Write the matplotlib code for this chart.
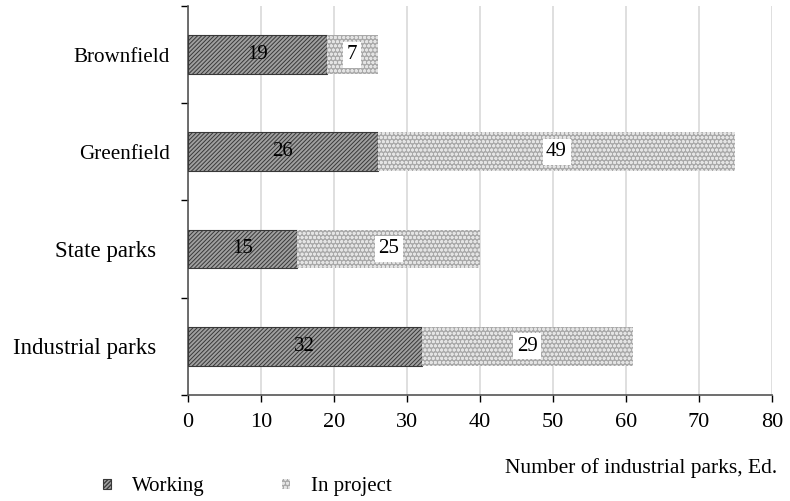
import matplotlib.pyplot as plt
import matplotlib.transforms as mtransforms
import numpy as np

categories = ["Industrial parks", "State parks", "Greenfield", "Brownfield"]
working = [32, 15, 26, 19]
in_project = [29, 25, 49, 7]

plt.rcParams['font.family'] = ['Liberation Serif', 'DejaVu Serif']

fig = plt.figure(figsize=(7.9, 5.01), dpi=100)
ax = fig.add_axes([0.238, 0.212, 0.739, 0.776])

y = np.arange(len(categories))
left = np.array(working)

plt.rcParams['hatch.linewidth'] = 0.7
b1 = ax.barh(y, working, height=0.4, color='#a0a0a0', edgecolor='#383838',
             hatch='////////', linewidth=0.8, zorder=3)
plt.rcParams['hatch.linewidth'] = 0.9
b2 = ax.barh(y, in_project, left=left, height=0.4, color='#a9a9a9',
             edgecolor='#e4e4e4', hatch='oooo', linewidth=0, zorder=3)

for i in range(len(categories)):
    ax.text(working[i] / 2, y[i], str(working[i]), ha='center', va='center',
            fontsize=15, zorder=5)
    ax.text(working[i] + in_project[i] / 2, y[i], str(in_project[i]),
            ha='center', va='center', fontsize=15, zorder=5,
            bbox=dict(facecolor='white', edgecolor='none', pad=2.5))

ax.set_xlim(0, 80)
ax.set_ylim(-0.5, len(categories) - 0.5)
ax.set_xticks(range(0, 81, 10))
ax.tick_params(axis='x', labelsize=16, length=5, width=1, direction='out', pad=8)

ax.set_yticks(y)
ax.set_yticklabels(categories)
ax.tick_params(axis='y', length=0, pad=13)
ax.set_yticks(np.arange(-0.5, len(categories), 1), minor=True)
ax.tick_params(axis='y', which='minor', length=5, width=1)

# the lower two labels are larger and sit further left in the original
labels = ax.get_yticklabels()
for lab in labels[:2]:
    lab.set_fontsize(16.5)
    lab.set_transform(lab.get_transform() +
                      mtransforms.ScaledTranslation(-0.14, 0, fig.dpi_scale_trans))
for lab in labels[2:]:
    lab.set_fontsize(15.2)

ax.grid(axis='x', color='#d9d9d9', linewidth=1.2, zorder=0)
ax.set_axisbelow(True)
for s in ['top', 'right']:
    ax.spines[s].set_visible(False)
ax.spines['left'].set_color('#555555')
ax.spines['left'].set_linewidth(1.2)
ax.spines['bottom'].set_color('#555555')
ax.spines['bottom'].set_linewidth(1.2)

fig.text(0.984, 1 - 468 / 501, "Number of industrial parks, Ed.", ha='right',
         va='center', fontsize=15.5)

handles = [b1[0], b2[0]]
fig.legend(handles, ["Working", "In project"], loc='center left',
           bbox_to_anchor=(0.13, 1 - 487 / 501), ncol=2, frameon=False,
           fontsize=15, handlelength=0.4, handleheight=0.4, handletextpad=1.0,
           columnspacing=3.7, borderpad=0, borderaxespad=0)

fig.savefig("out.png", dpi=100)
